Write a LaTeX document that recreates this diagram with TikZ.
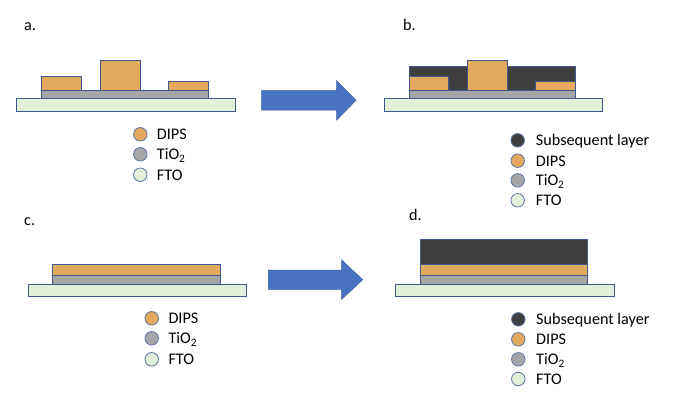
\documentclass[tikz,border=0pt]{standalone}
\usepackage{fontspec}
\setmainfont{Carlito}
\definecolor{dips}{HTML}{E2A95F}
\definecolor{tio}{HTML}{A6A6A6}
\definecolor{fto}{HTML}{E2EFD9}
\definecolor{dark}{HTML}{3F3F3F}
\definecolor{edge}{HTML}{3E5A8C}
\definecolor{arrowfill}{HTML}{4A72C2}
\definecolor{lgedge}{HTML}{5A74A6}
\tikzset{
  layer/.style={draw=edge, line width=0.8pt},
  lgdot/.style={circle, draw=lgedge, line width=0.8pt, minimum size=13.5pt, inner sep=0pt},
  lgtext/.style={anchor=base west, inner sep=0pt, font=\fontsize{16.2}{18}\selectfont},
  plabel/.style={anchor=base west, inner sep=0pt, font=\fontsize{16.2}{18}\selectfont},
  bigarrow/.style={fill=arrowfill, draw=arrowfill!80!black, line width=0.5pt}
}
\begin{document}
\begin{tikzpicture}[x=1pt,y=-1pt]
\useasboundingbox (0,0) rectangle (676,407);
% ---------- panel a ----------
\node[plabel] (la) at (24,30) {a.};
\draw[layer, fill=fto] (16.7,98.3) rectangle (235.7,111);
\draw[layer, fill=tio] (41,90) rectangle (208.7,98.3);
\draw[layer, fill=dips] (41,76.3) rectangle (81.7,90);
\draw[layer, fill=dips] (100,60) rectangle (140.3,90);
\draw[layer, fill=dips] (168.3,81) rectangle (208.7,90);
\node[lgdot, fill=dips] (a1) at (140.3,134.3) {};
\node[lgdot, fill=tio] (a2) at (140.3,154.3) {};
\node[lgdot, fill=fto] (a3) at (140.3,174.7) {};
\node[lgtext] (ta1) at (156.7,139.6) {DIPS};
\node[lgtext] (ta2) at (156.7,159.6) {TiO\textsubscript{2}};
\node[lgtext] (ta3) at (156.7,180.0) {FTO};
% arrow top
\draw[bigarrow] (261.7,90.7) -- (336.7,90.7) -- (336.7,80.7) -- (356,100.3) -- (336.7,120) -- (336.7,110) -- (261.7,110) -- cycle;
% ---------- panel b ----------
\node[plabel] (lb) at (403,30) {b.};
\draw[layer, fill=fto] (384,98.3) rectangle (602.3,111);
\draw[layer, fill=tio] (409,90) rectangle (575.3,98.3);
\draw[layer, fill=dark] (409,66) rectangle (575.3,90);
\draw[layer, fill=dips] (409,76.7) rectangle (448.3,90);
\draw[layer, fill=dips] (467.3,60) rectangle (507.7,90);
\draw[layer, fill=dips] (535.7,81) rectangle (575.3,90);
\node[lgdot, fill=dark] (b0) at (517.7,140.3) {};
\node[lgdot, fill=dips] (b1) at (517.7,160.7) {};
\node[lgdot, fill=tio] (b2) at (517.7,180.3) {};
\node[lgdot, fill=fto] (b3) at (517.7,200.3) {};
\node[lgtext] (tb0) at (535.7,145.6) {Subsequent layer};
\node[lgtext] (tb1) at (535.7,166.0) {DIPS};
\node[lgtext] (tb2) at (535.7,185.6) {TiO\textsubscript{2}};
\node[lgtext] (tb3) at (535.7,205.6) {FTO};
% ---------- panel c ----------
\node[plabel] (lc) at (24,225) {c.};
\draw[layer, fill=fto] (28.3,284) rectangle (246.7,296.7);
\draw[layer, fill=tio] (52.7,275.7) rectangle (220,284);
\draw[layer, fill=dips] (52.7,264) rectangle (220,275.7);
\node[lgdot, fill=dips] (c1) at (151.7,318.3) {};
\node[lgdot, fill=tio] (c2) at (151.7,338.3) {};
\node[lgdot, fill=fto] (c3) at (151.7,359.3) {};
\node[lgtext] (tc1) at (168.3,323.6) {DIPS};
\node[lgtext] (tc2) at (168.3,343.6) {TiO\textsubscript{2}};
\node[lgtext] (tc3) at (168.3,364.6) {FTO};
% arrow bottom
\draw[bigarrow] (268.3,270) -- (341.7,270) -- (341.7,260) -- (362.7,279.7) -- (341.7,299.3) -- (341.7,289.3) -- (268.3,289.3) -- cycle;
% ---------- panel d ----------
\node[plabel] (ld) at (409,220) {d.};
\draw[layer, fill=fto] (395.7,284) rectangle (614.3,296.7);
\draw[layer, fill=tio] (420,275.7) rectangle (587.3,284);
\draw[layer, fill=dips] (420,264.3) rectangle (587.3,275.7);
\draw[layer, fill=dark] (420,239.3) rectangle (587.3,264.3);
\node[lgdot, fill=dark] (d0) at (518.3,319.3) {};
\node[lgdot, fill=dips] (d1) at (518.3,339.3) {};
\node[lgdot, fill=tio] (d2) at (518.3,359.3) {};
\node[lgdot, fill=fto] (d3) at (518.3,379) {};
\node[lgtext] (td0) at (536,324.6) {Subsequent layer};
\node[lgtext] (td1) at (536,344.6) {DIPS};
\node[lgtext] (td2) at (536,364.6) {TiO\textsubscript{2}};
\node[lgtext] (td3) at (536,384.3) {FTO};
\end{tikzpicture}
\end{document}
